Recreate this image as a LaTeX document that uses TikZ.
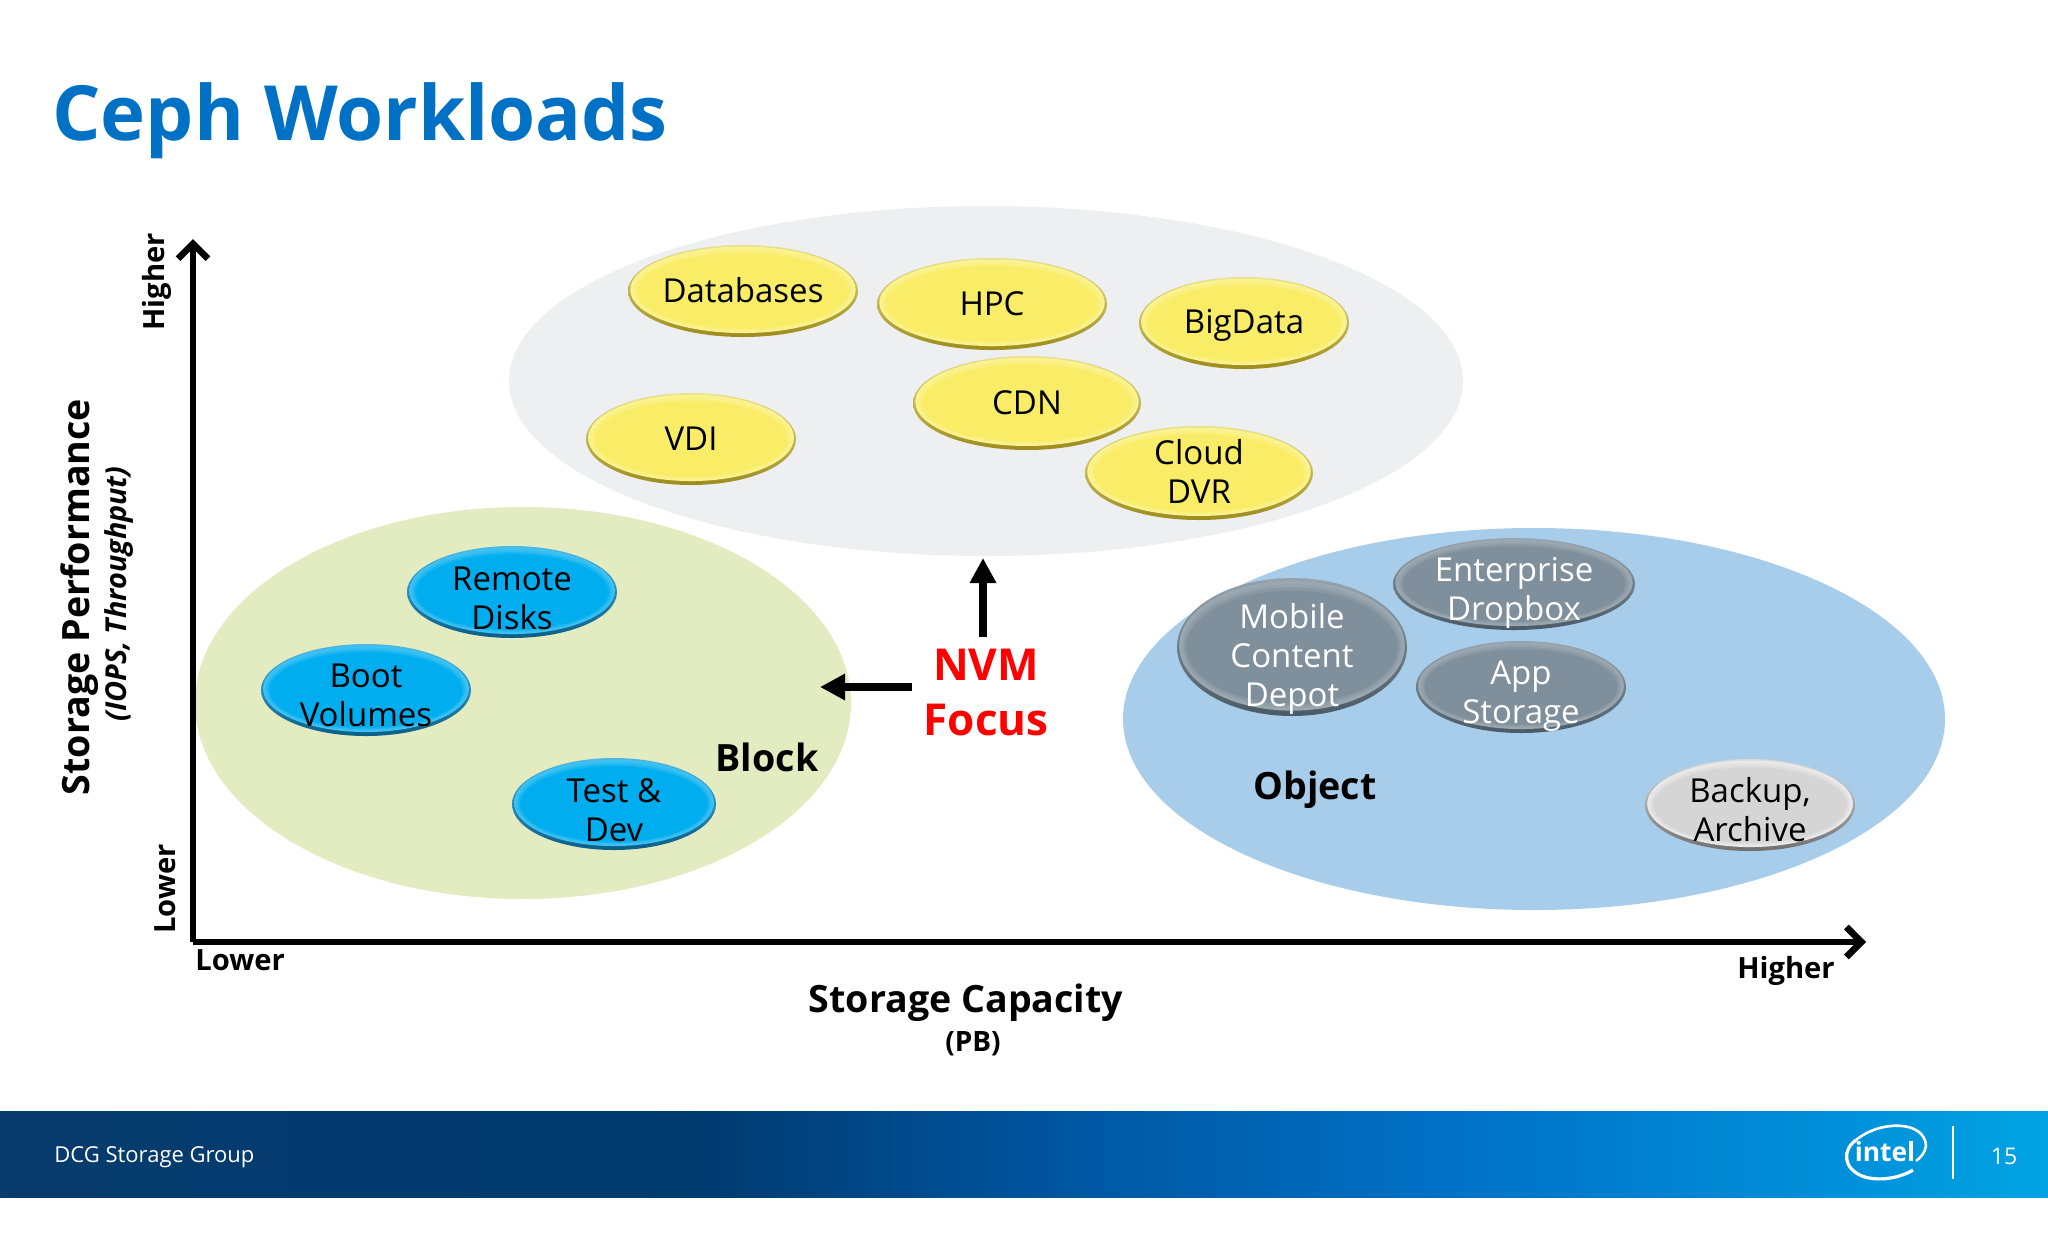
\documentclass[tikz,border=0pt]{standalone}
\usepackage{fontspec}
\setmainfont{Open Sans}
\usetikzlibrary{shapes.geometric,arrows.meta}

\definecolor{intelblue}{HTML}{0071C5}
\definecolor{zonegray}{HTML}{EEEFF1}
\definecolor{zonegreen}{HTML}{E3ECC0}
\definecolor{zoneblue}{HTML}{A7CDEB}

% footer band, left to right
\pgfdeclarehorizontalshading{footband}{100bp}{
  rgb(0bp)=(.03,.23,.43); rgb(25bp)=(.03,.23,.43); rgb(42bp)=(0,.23,.44);
  rgb(50.5bp)=(0,.33,.62); rgb(60bp)=(0,.44,.77); rgb(69.6bp)=(0,.56,.85); rgb(75bp)=(0,.64,.89); rgb(100bp)=(0,.64,.89)}

\definecolor{bubtopy}{HTML}{FCF6A8}
\definecolor{bubbodyy}{HTML}{F9ED68}
\definecolor{bubedgey}{HTML}{9C8C1C}
\definecolor{bubtopc}{HTML}{60CDF5}
\definecolor{bubbodyc}{HTML}{00ADEF}
\definecolor{bubedgec}{HTML}{0A5E88}
\definecolor{bubtopg}{HTML}{AAB6BE}
\definecolor{bubbodyg}{HTML}{7F8F9B}
\definecolor{bubedgeg}{HTML}{4A5A66}
\definecolor{bubtops}{HTML}{F4F4F4}
\definecolor{bubbodys}{HTML}{D5D5D5}
\definecolor{bubedges}{HTML}{707070}

\tikzset{
  zone/.style={ellipse, inner sep=0pt, draw=none},
  bub/.style 2 args={ellipse, inner sep=0pt, minimum width=#1pt, minimum height=#2pt,
    top color=bubedge!20!bubtop, middle color=bubedge!30!bubbody, bottom color=bubedge,
    path picture={
      \fill[bubtop!65!bubbody] ([yshift=.6pt]path picture bounding box.center) ellipse [x radius=.49*#1pt, y radius=.47*#2pt];
      \fill[bubtop!50!bubbody] ([yshift=.4pt]path picture bounding box.center) ellipse [x radius=.48*#1pt, y radius=.45*#2pt];
      \fill[bubtop!25!bubbody] ([yshift=.2pt]path picture bounding box.center) ellipse [x radius=.47*#1pt, y radius=.43*#2pt];
      \fill[bubbody] (path picture bounding box.center) ellipse [x radius=.46*#1pt, y radius=.41*#2pt];
    }},
  ybub/.style={/utils/exec={\colorlet{bubbody}{bubbodyy}\colorlet{bubtop}{bubtopy}\colorlet{bubedge}{bubedgey}}},
  cbub/.style={/utils/exec={\colorlet{bubbody}{bubbodyc}\colorlet{bubtop}{bubtopc}\colorlet{bubedge}{bubedgec}}},
  gbub/.style={/utils/exec={\colorlet{bubbody}{bubbodyg}\colorlet{bubtop}{bubtopg}\colorlet{bubedge}{bubedgeg}}},
  sbub/.style={/utils/exec={\colorlet{bubbody}{bubbodys}\colorlet{bubtop}{bubtops}\colorlet{bubedge}{bubedges}}},
  dark/.style={align=center, text=black, font=\fontsize{16.5}{19.5}\selectfont, inner sep=0pt},
  light/.style={dark, text=white},
  axis/.style={line width=3.3pt, -{Straight Barb[length=7.5pt, width=15pt]}},
  push/.style={line width=4pt, -{Triangle[length=12.5pt, width=12.5pt]}},
  head/.style={font=\fontsize{18.8}{23}\selectfont\bfseries, inner sep=0pt},
  small/.style={font=\fontsize{14.6}{17}\selectfont\bfseries, inner sep=0pt},
}

\begin{document}
\begin{tikzpicture}[x=.5pt, y=-.5pt]
  \useasboundingbox (0,0) rectangle (2048,1243);
  \fill[white] (0,0) rectangle (2048,1243);

  % title
  \node[anchor=base west, inner sep=0pt, text=intelblue, font=\fontsize{38.1}{44}\selectfont\bfseries] (title) at (52,140) {Ceph Workloads};

  % zones
  \node[zone, fill=zonegray, minimum width=477pt, minimum height=175pt] (perf) at (986,381) {};
  \node[zone, fill=zonegreen, minimum width=328pt, minimum height=196pt] (block) at (523,703) {};
  \node[zone, fill=zoneblue, minimum width=411pt, minimum height=191pt] (object) at (1534,719) {};

  % yellow
  \node[ybub, bub={115}{46}, label={[dark,yshift=.5pt]center:{Databases}}] (db) at (743,291) {};
  \node[ybub, bub={115}{46}, label={[dark]center:{HPC}}] (hpc) at (992,304) {};
  \node[ybub, bub={105}{46}, label={[dark,yshift=-1pt]center:{BigData}}] (bigdata) at (1244,323) {};
  \node[ybub, bub={114}{47}, label={[dark]center:{CDN}}] (cdn) at (1027,403) {};
  \node[ybub, bub={105}{46}, label={[dark]center:{VDI}}] (vdi) at (691,439) {};
  \node[ybub, bub={114}{47}, label={[dark,yshift=1pt]center:{Cloud\\DVR}}] (dvr) at (1199,473) {};

  % blue
  \node[cbub, bub={105}{46}, label={[dark,yshift=-3pt]center:{Remote\\Disks}}] (remote) at (512,592) {};
  \node[cbub, bub={105}{46}, label={[dark,yshift=-2.5pt]center:{Boot\\Volumes}}] (boot) at (366,690) {};
  \node[cbub, bub={102}{46}, label={[dark,yshift=-3pt]center:{Test \&\\Dev}}] (test) at (614,804) {};

  % grey
  \node[gbub, bub={115}{69}, label={[light,yshift=-6pt]center:{Mobile\\Content\\Depot}}] (mobile) at (1292,647) {};
  \node[gbub, bub={121}{46}, label={[light,yshift=-4.5pt]center:{Enterprise\\Dropbox}}] (dropbox) at (1514,584) {};
  \node[gbub, bub={105}{46}, label={[light,yshift=-4.5pt]center:{App\\Storage}}] (app) at (1521,687) {};
  \node[sbub, bub={105}{46}, label={[dark,yshift=-2.5pt]center:{Backup,\\Archive}}] (backup) at (1750,805) {};

  % zone names
  \node[head] (blockname) at (767,757) {Block};
  \node[head] (objectname) at (1315,790) {Object};

  % axes
  \coordinate (origin) at (193,942);
  \coordinate (ytip) at (193,239);
  \coordinate (xtip) at (1866,942);
  \draw[axis] (origin) -- (ytip);
  \draw[axis] (origin) -- (xtip);

  \node[small, anchor=west] (xlow) at (195,960) {Lower};
  \node[small] (xhigh) at (1786,971) {Higher};
  \node[small, rotate=90] (yhigh) at (157,282) {Higher};
  \node[small, rotate=90] (ylow) at (165,889) {Lower};
  \node[head] (xname) at (966,1003) {Storage Capacity};
  \node[small, font=\fontsize{14}{17}\selectfont\bfseries] (xunit) at (973,1044) {(PB)};
  \node[head, rotate=90] (yname) at (80,597) {Storage Performance};
  \node[font=\fontsize{14.4}{17}\selectfont\bfseries\itshape, inner sep=0pt, rotate=90] (yunit) at (119,594) {(IOPS, Throughput)};

  % nvm
  \node[align=center, text=red, inner sep=0pt, outer sep=6pt, font=\fontsize{22}{27.5}\selectfont\bfseries] (nvm) at (986,692) {NVM\\Focus};
  \coordinate (uptip) at (983,558);
  \coordinate (lefttip) at (820,687);
  \draw[push] (nvm.north -| uptip) -- (uptip);
  \draw[push] (nvm.west |- lefttip) -- (lefttip);

  % footer
  \path[shading=footband] (0,1111) rectangle (2048,1197);
  \node[anchor=west, text=white, inner sep=0pt, font=\fontsize{11}{14}\selectfont] (group) at (54,1157) {DCG Storage Group};
  \node[text=white, inner sep=0pt, font=\fontsize{11.5}{14}\selectfont] (page) at (2004,1156) {15};
  \draw[white, line width=.7pt] (1953,1126) -- (1953,1179);

  % logo
  \node[text=white, inner sep=0pt, font=\fontsize{13.2}{16}\selectfont\bfseries] (logo) at (1885,1152) {intel};
  \draw[white, line width=1.3pt] (1856,1140) .. controls (1880,1120) and (1925,1120) .. (1926,1146) .. controls (1925,1153) and (1920,1158) .. (1916,1161);
  \draw[white, line width=1.6pt] (1856,1140) .. controls (1842,1150) and (1843,1168) .. (1862,1176) .. controls (1878,1182) and (1900,1178) .. (1913,1170);
\end{tikzpicture}
\end{document}
